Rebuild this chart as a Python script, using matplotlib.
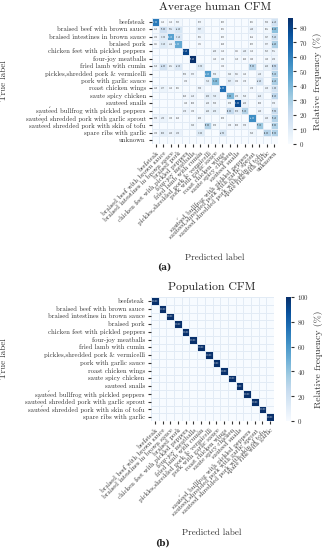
import numpy as np
import matplotlib
matplotlib.use("Agg")
import matplotlib.pyplot as plt
import seaborn as sns

plt.rcParams['font.family'] = ['cmr10', 'DejaVu Serif']
plt.rcParams['axes.formatter.use_mathtext'] = True
plt.rcParams['mathtext.fontset'] = 'cm'

dishes = [
    "beefsteak",
    "braised beef with brown sauce",
    "braised intestines in brown sauce",
    "braised pork",
    "chicken feet with pickled peppers",
    "four-joy meatballs",
    "fried lamb with cumin",
    "pickles,shredded pork & vermicelli",
    "pork with garlic sauce",
    "roast chicken wings",
    "saute spicy chicken",
    "sauteed snails",
    "sautéed bullfrog with pickled peppers",
    "sautéed shredded pork with garlic sprout",
    "sautéed shredded pork with skin of tofu",
    "spare ribs with garlic",
]
human_labels = dishes + ["unknown"]

# average human confusion matrix (% per true label)
human_cfm = [
    [62.0, 1.52, 1.52, 3.03, 0, 0, 2.73, 0, 0, 0.83, 0, 0, 0, 0.81, 0, 3.08, 16.5],
    [1.52, 18.2, 9.85, 14.4, 0, 0, 7.87, 0, 0, 0.91, 0, 0, 0, 5.40, 0, 2.05, 36.5],
    [1.92, 10.3, 48.1, 13.5, 0, 0, 2.91, 0, 0, 0.93, 0, 0, 0, 0.56, 0, 3.47, 18.4],
    [1.21, 10.4, 5.56, 45.2, 0, 0, 1.31, 0, 0, 0.40, 0, 0, 0, 0.93, 0, 3.37, 28.6],
    [0, 0, 0, 0, 79.5, 0, 0, 0, 4.00, 1.52, 0, 1.21, 5.40, 1.52, 0, 3.63, 3.75],
    [0, 0, 0, 0, 0, 86.6, 0, 0, 1.60, 1.00, 0, 1.50, 0.40, 1.20, 0, 1.40, 4.30],
    [3.50, 16.2, 4.85, 12.1, 0, 0, 10.3, 0, 0, 1.02, 0, 0, 0, 24.8, 0, 6.40, 20.9],
    [0, 0, 0, 0, 2.92, 3.33, 0, 50.4, 3.90, 0, 3.42, 3.21, 1.62, 0, 5.10, 0, 26.1],
    [0, 0, 0, 0, 1.92, 0, 0, 7.52, 38.1, 0, 7.87, 1.82, 1.70, 0, 12.6, 0, 28.5],
    [1.60, 4.77, 1.62, 0.81, 0, 0, 3.80, 0, 0, 65.8, 0, 0, 0, 1.70, 0, 4.10, 15.8],
    [0, 0, 0, 0, 2.60, 4.50, 0, 8.80, 7.10, 0, 39.2, 4.30, 3.60, 0, 6.50, 0, 23.4],
    [0, 0, 0, 0, 1.40, 2.00, 0, 4.00, 3.00, 0, 2.30, 78.0, 4.00, 0, 2.00, 0, 3.30],
    [0, 0, 0, 0, 4.70, 1.90, 0, 6.40, 6.90, 0, 21.0, 8.70, 26.1, 0, 4.40, 0, 19.9],
    [3.30, 5.30, 1.00, 0.60, 0, 0, 2.80, 0, 0, 0.90, 0, 0, 0, 55.2, 0, 4.40, 26.5],
    [0, 0, 0, 0, 0, 3.40, 0, 27.0, 2.30, 0, 1.90, 2.00, 3.30, 0, 33.1, 0, 27.0],
    [1.90, 8.00, 4.40, 5.90, 0, 0, 10.2, 0, 0, 12.9, 0, 0, 0, 3.60, 0, 25.8, 27.3],
    [0] * 17,
]

# population confusion matrix: every dish recognised correctly
population_diag = [100.0] * 16

cmap = "Blues"
grid_color = "#e2ebf5"
txt = "#333333"


def tex(label):
    # cmr10's é slot holds a different glyph: use e + combining acute
    # (the combining mark falls back to DejaVu Serif)
    return label.replace("é", "e\u0301")


def annot_of(m):
    return np.where(m > 0, np.char.mod("%.2f", m), "")


def draw(ax, cax, m, labels, vmax, ticks):
    labels = [tex(l) for l in labels]
    sns.heatmap(m, ax=ax, cbar_ax=cax, cmap=cmap, vmin=0, vmax=vmax,
                annot=annot_of(m), fmt="", annot_kws={"size": 1.6},
                linewidths=0.4, linecolor=grid_color,
                xticklabels=labels, yticklabels=labels,
                cbar_kws={"label": "Relative frequency (%)"})
    ax.tick_params(axis="both", length=2.5, width=0.8, color=txt,
                   labelsize=4.8, labelcolor=txt, pad=2)
    plt.setp(ax.get_xticklabels(), rotation=45, ha="right",
             rotation_mode="anchor")
    plt.setp(ax.get_yticklabels(), rotation=0)
    cax.tick_params(length=2.5, width=0.8, color=txt, labelsize=5,
                    labelcolor=txt, pad=2)
    cax.set_yticks(ticks)
    cax.yaxis.label.set_size(7)
    cax.yaxis.label.set_color(txt)
    cax.yaxis.labelpad = 4


fig = plt.figure(figsize=(3.25, 5.5), dpi=100)
W, H = 325.0, 550.0

ax1 = fig.add_axes([152 / W, 1 - 143.7 / H, 126 / W, 125.4 / H])
cax1 = fig.add_axes([288 / W, 1 - 143.7 / H, 5 / W, 125.4 / H])
m1 = np.array(human_cfm, dtype=float)
draw(ax1, cax1, m1, human_labels, m1.max(), np.arange(0, 90, 10))

ax2 = fig.add_axes([151 / W, 1 - 421 / H, 123 / W, 124 / H])
cax2 = fig.add_axes([285.5 / W, 1 - 421 / H, 5 / W, 124 / H])
m2 = np.diag(population_diag)
draw(ax2, cax2, m2, dishes, 100, np.arange(0, 101, 20))

for ax, left, w, height, drop, x_c in [(ax1, 152, 126, 125.4, 110, 215),
                                       (ax2, 151, 123, 124, 108, 212)]:
    ax.set_xlabel("Predicted label", fontsize=6.5, color=txt)
    ax.set_ylabel("True label", fontsize=6.5, color=txt)
    ax.xaxis.set_label_coords((x_c - left) / w, -drop / height)
    ax.yaxis.set_label_coords((8 - left) / w, 0.5)

fig.text(215 / W, 1 - 7.5 / H, "Average human CFM", fontsize=8.5,
         ha="center", va="center", color="#222222")
fig.text(212 / W, 1 - 287 / H, "Population CFM", fontsize=8.5,
         ha="center", va="center", color="#222222")
fig.text(164 / W, 1 - 267 / H, "(a)", fontsize=6.5, fontweight="bold",
         family="DejaVu Serif", ha="center", va="center", color="#222222")
fig.text(163 / W, 1 - 543 / H, "(b)", fontsize=6.5, fontweight="bold",
         family="DejaVu Serif", ha="center", va="center", color="#222222")

fig.savefig("out.png", dpi=100)
